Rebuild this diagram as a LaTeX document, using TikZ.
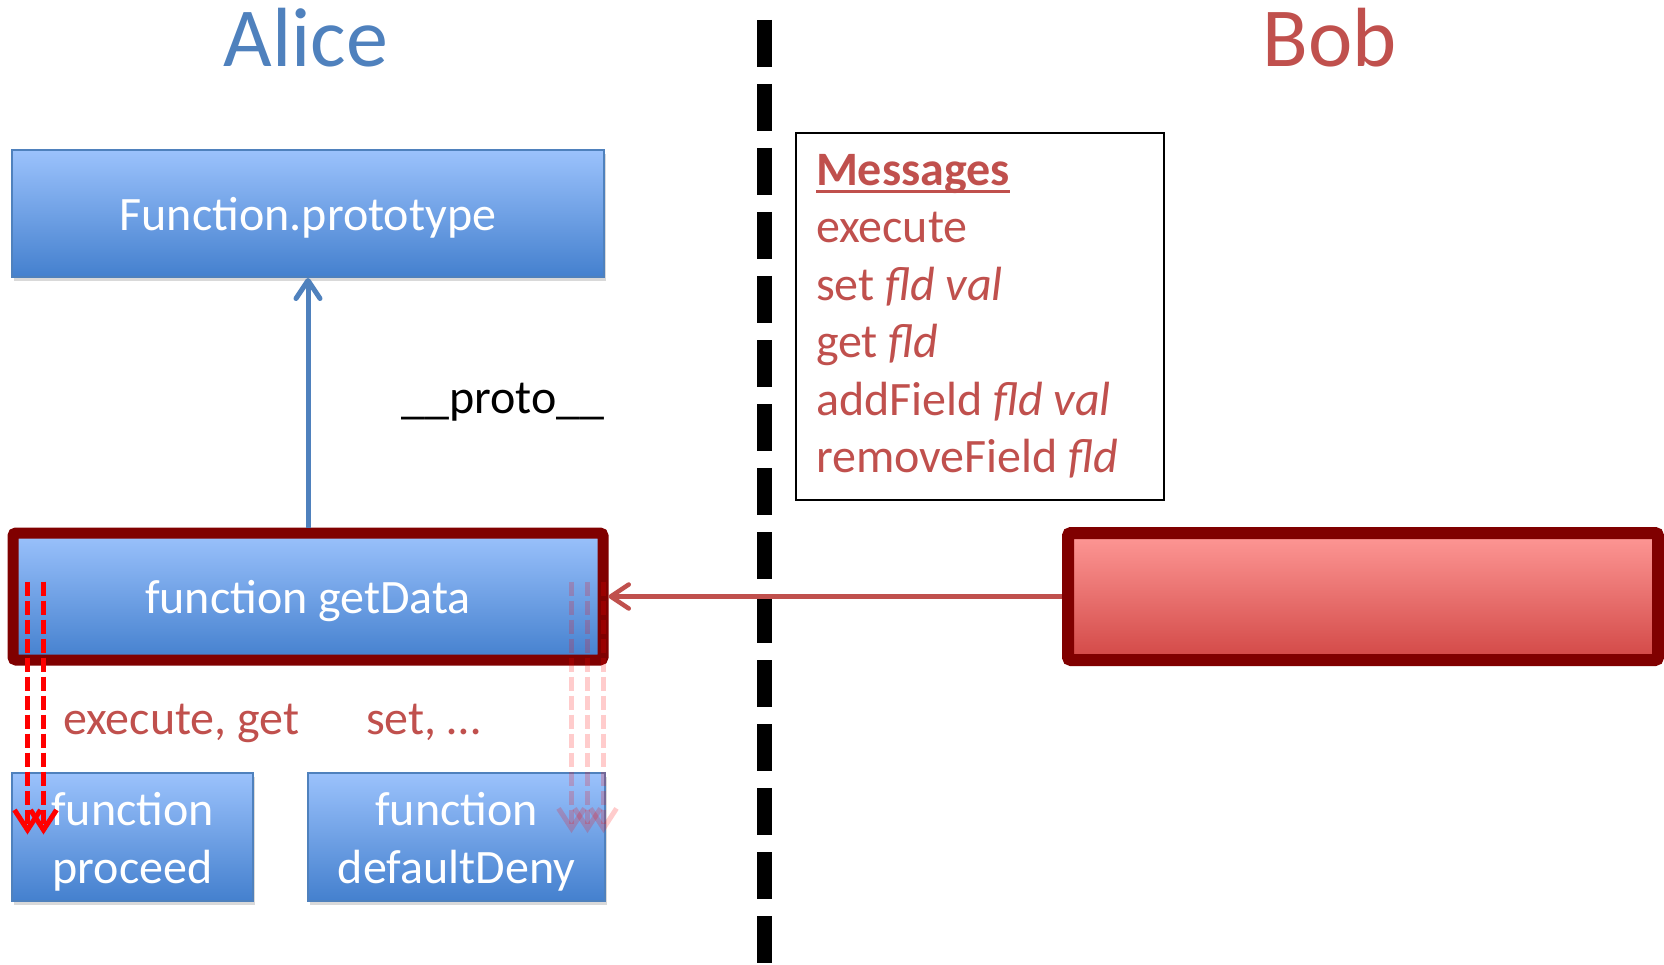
\documentclass[tikz,border=0pt]{standalone}
\usepackage{fontspec}
\setmainfont{Carlito}
\usetikzlibrary{arrows.meta,positioning,calc,shadows}
\definecolor{alicecol}{RGB}{79,129,189}
\definecolor{bobcol}{RGB}{192,80,77}
\definecolor{edgered}{RGB}{128,0,0}
\definecolor{bluetop}{RGB}{155,194,252}
\definecolor{bluemid}{RGB}{118,163,232}
\definecolor{bluebot}{RGB}{68,128,206}
\definecolor{redtop}{RGB}{254,152,150}
\definecolor{redmid}{RGB}{236,124,122}
\definecolor{redbot}{RGB}{210,72,70}
\newcommand{\bodyfont}{\fontsize{48}{58}\selectfont}
\newcommand{\partyfont}{\fontsize{84}{90}\selectfont}
\newcommand{\msgfont}{\fontsize{48}{57.5}\selectfont}
% thick underline for the list heading
\newcommand{\msgul}[1]{\setbox0\hbox{#1}\rlap{\rule[-8pt]{\wd0}{3pt}}\box0}
% narrow gap in front of italic arguments
\newcommand{\argsp}{\hspace{0.22em}}
% pushes the first of two lines down a little
\newcommand{\tallstrut}{\rule{0pt}{43pt}}

\begin{document}
\begin{tikzpicture}[
    x=1pt, y=-1pt,
    party/.style={font=\partyfont, inner sep=0pt, anchor=base},
    bluefill/.style={top color=bluetop, middle color=bluemid, bottom color=bluebot},
    softshadow/.style={drop shadow={shadow xshift=2pt, shadow yshift=-4pt, opacity=0.3, fill=black!50}},
    objbox/.style={rectangle, bluefill, softshadow, draw=alicecol, line width=2pt,
        text=white, font=\bodyfont, align=center, inner sep=0pt},
    hotbox/.style={rectangle, softshadow, draw=edgered, line width=11pt, rounded corners=3pt,
        text=white, font=\bodyfont, inner sep=0pt},
    lab/.style={font=\bodyfont, inner sep=0pt, anchor=base west},
    divider/.style={line width=15pt, dash pattern=on 47pt off 17pt},
    protoarrow/.style={draw=alicecol, line width=5pt, -{Straight Barb[length=18pt, width=24pt, round]}},
    msgarrow/.style={draw=bobcol, line width=4.5pt, -{Straight Barb[length=18pt, width=24pt, round]}},
    flowon/.style={draw=red, line width=5pt, dash pattern=on 14pt off 5pt, -{Straight Barb[length=20pt, width=26pt]}},
    flowoff/.style={flowon, draw opacity=0.2}
]
\useasboundingbox (0,0) rectangle (1664,965);

% Alice | Bob
\draw[divider] (764,20) -- (764,965);
\node[party, text=alicecol] (alice) at (306,67) {Alice};
\node[party, text=bobcol] (bob) at (1330,67) {Bob};

% Alice side
\node[objbox, text depth=0pt, minimum width=592pt, minimum height=127pt] (proto) at (308,213.5) {Function.prototype};
\node[hotbox, bluefill, text depth=0pt, minimum width=590pt, minimum height=127pt] (getdata) at (308,596.5) {function getData};
\node[objbox, minimum width=241pt, minimum height=128pt] (proceed) at (132.5,837) {\tallstrut function\\proceed};
\node[objbox, minimum width=297pt, minimum height=128pt] (deny) at (456.5,837) {\tallstrut function\\defaultDeny};

% Bob side
\node[draw, line width=2.5pt, fill=white, text=bobcol, text width=328pt, align=left,
    inner xsep=20pt, inner ysep=0pt, minimum height=367pt, font=\msgfont]
    (msgs) at (980,316.5) {\msgul{\textbf{Messages}}\\
    execute\\
    set\argsp\textit{fld\argsp val}\\
    get\argsp\textit{fld}\\
    addField\argsp\textit{fld\argsp val}\\
    removeField\argsp\textit{fld}};
\node[hotbox, line width=12pt, top color=redtop, middle color=redmid, bottom color=redbot,
    minimum width=590pt, minimum height=127pt] (bobbox) at (1363,596.5) {};

\draw[protoarrow] (getdata.north) -- (proto.south)
    node[midway, lab, xshift=91pt, yshift=-11pt] (protolbl) {\_\_proto\_\_};
\draw[msgarrow] (bobbox.west) -- (getdata.east);

% forwarded and refused messages
\node[lab, text=bobcol] (allowlbl) at (63,734) {execute, get};
\node[lab, text=bobcol] (denylbl) at (366,734) {set, …};
\foreach \dx in {20,36}
    \draw[flowon] ($(getdata.west)+(\dx,-15)$) -- ($(getdata.west)+(\dx,238)$);
\foreach \dx in {-37,-21,-5}
    \draw[flowoff] ($(getdata.east)+(\dx,-15)$) -- ($(getdata.east)+(\dx,236.5)$);
\end{tikzpicture}
\end{document}
